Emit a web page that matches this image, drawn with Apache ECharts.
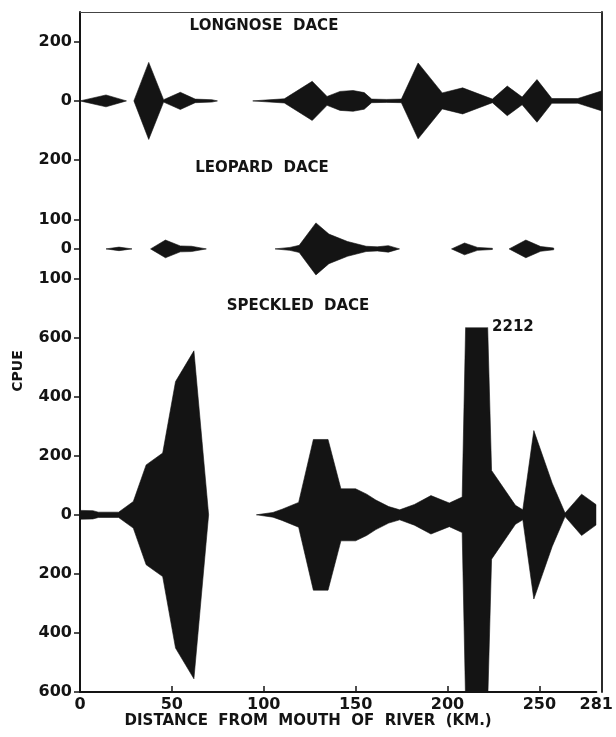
<!DOCTYPE html>
<html>
<head>
<meta charset="utf-8">
<script src="https://cdn.jsdelivr.net/npm/echarts@6/dist/echarts.min.js"></script>
<style>
  html, body { margin: 0; padding: 0; background: #fff; }
  #chart { width: 616px; height: 737px; }
</style>
</head>
<body>
<div id="chart"></div>
<script>
// Distance from the river mouth (km) and CPUE for each species.
// A null entry splits the kite where the species was not taken.
const longnoseKm   = [0, 14, 25, null, 29, 37, 45, 54, 62, 71, 74, null,
                      93, 100, 110, 125, 133, 140, 147, 153, 157, 165, 173, 182, 195, 206, 222, 230, 238, 246, 254, 268, 281];
const longnoseCpue = [0, 20, 0, null, 0, 130, 4, 29, 6, 4, 0, null,
                      0, 3, 7, 66, 15, 32, 35, 28, 6, 5, 6, 128, 27, 44, 6, 50, 13, 72, 8, 8, 34];

const leopardKm   = [14, 21, 28, null, 38, 46, 54, 60, 68, null,
                     105, 113, 118, 127, 134, 144, 154, 160, 166, 172, null,
                     200, 207, 214, 222, null, 231, 240, 248, 255];
const leopardCpue = [0, 6, 0, null, 0, 30, 10, 9, 0, null,
                     0, 5, 12, 88, 50, 25, 9, 7, 11, 0, null,
                     0, 20, 5, 2, null, 0, 30, 8, 3];

const speckledKm   = [0, 7, 10, 21, 29, 36, 45, 52, 62, 70, null,
                      96, 105, 110, 119, 127, 135, 142, 150, 156, 161, 168, 174, 182, 191, 201, 208, 215, 224, 237, 241, 247, 257, 264, 273, 281];
const speckledCpue = [15, 14, 9, 9, 45, 169, 209, 451, 555, 0, null,
                      0, 8, 19, 42, 255, 255, 88, 88, 70, 50, 28, 17, 35, 65, 40, 60, 2212, 150, 32, 17, 285, 107, 6, 70, 34];

// Tick values (CPUE is mirrored about each baseline).
const distanceTicks = [0, 50, 100, 150, 200, 250, 281];
const longnoseTicks = [-200, 0, 200];
const leopardTicks  = [-100, 0, 100];
const speckledTicks = [-600, -400, -200, 0, 200, 400, 600];

// Vertical extent of each strip (same CPUE-per-pixel scale in all three).
const LONGNOSE_RANGE = [-300, 300];
const LEOPARD_RANGE  = [-265, 200];
const SPECKLED_RANGE = [-600, 635];

const INK = '#141414';
const FONT = 'DejaVu Sans';

const chart = echarts.init(document.getElementById('chart'), null, { renderer: 'canvas' });

// Split the paired arrays into runs of consecutive stations.
function segments(km, cpue) {
  const out = [];
  let cur = [];
  km.forEach((x, i) => {
    if (x == null) { if (cur.length) out.push(cur); cur = []; }
    else cur.push([x, cpue[i]]);
  });
  if (cur.length) out.push(cur);
  return out;
}

// One custom series per species: each run is drawn as a polygon mirrored about zero.
function kite(km, cpue, idx, name) {
  const segs = segments(km, cpue);
  return {
    type: 'custom', name: name, xAxisIndex: idx, yAxisIndex: idx,
    silent: true, animation: false, clip: true,
    data: segs.map((s, i) => [s[0][0], s[s.length - 1][0], i]),
    encode: { x: [0, 1] },
    renderItem: function (params, api) {
      const seg = segs[api.value(2)];
      const upper = seg.map(p => api.coord([p[0], p[1]]));
      const lower = seg.slice().reverse().map(p => api.coord([p[0], -p[1]]));
      const cs = params.coordSys;
      return {
        type: 'polygon',
        shape: { points: upper.concat(lower) },
        style: { fill: INK, stroke: INK, lineWidth: 0.6 },
        clipPath: { type: 'rect', shape: { x: cs.x, y: cs.y, width: cs.width, height: cs.height } }
      };
    }
  };
}

const speckledMax = Math.max(...speckledCpue.filter(v => v != null));
const peakIdx = speckledCpue.indexOf(speckledMax);

function panelY(idx, range, ticks) {
  return {
    type: 'value', gridIndex: idx, min: range[0], max: range[1],
    axisLine: { show: false, onZero: false },
    splitLine: { show: false },
    axisTick: { show: true, inside: false, length: 6, customValues: ticks,
                lineStyle: { color: INK, width: 1.5 } },
    axisLabel: { show: true, customValues: ticks, margin: 8,
                 formatter: v => String(Math.abs(v)),
                 color: INK, fontSize: 16, fontWeight: 'bold', fontFamily: FONT }
  };
}

function hiddenX(idx) {
  return { type: 'value', gridIndex: idx, min: 0, max: 281, show: false,
           axisLine: { onZero: false } };
}

const option = {
  backgroundColor: '#fff',
  animation: false,
  grid: [
    { left: 80, right: 14, top: 12, height: 177.8 },
    { left: 80, right: 14, top: 189.8, height: 137.4 },
    { left: 80, right: 14, top: 327.2, height: 364.9 },
    // outer frame
    { left: 80, right: 14, top: 12, bottom: 44.9 }
  ],
  xAxis: [
    hiddenX(0),
    hiddenX(1),
    {
      type: 'value', gridIndex: 2, min: 0, max: 281,
      axisLine: { show: true, onZero: false, lineStyle: { color: INK, width: 2 } },
      splitLine: { show: false },
      axisTick: { show: true, inside: true, length: 6, customValues: [50, 100, 150, 200, 250],
                  lineStyle: { color: INK, width: 1.5 } },
      axisLabel: { show: true, customValues: distanceTicks, margin: 5,
                   color: INK, fontSize: 16, fontWeight: 'bold', fontFamily: FONT },
      name: 'DISTANCE  FROM  MOUTH  OF  RIVER  (KM.)',
      nameLocation: 'middle', nameGap: 21,
      nameTextStyle: { color: INK, fontSize: 15, fontWeight: 'bold', fontFamily: FONT,
                       padding: [0, 60, 0, 0] }
    },
    {
      type: 'value', gridIndex: 3, min: 0, max: 281, position: 'top',
      axisLine: { show: true, onZero: false, lineStyle: { color: '#444', width: 1.2 } },
      axisTick: { show: false }, axisLabel: { show: false }, splitLine: { show: false }
    }
  ],
  yAxis: [
    panelY(0, LONGNOSE_RANGE, longnoseTicks),
    panelY(1, LEOPARD_RANGE, leopardTicks),
    panelY(2, SPECKLED_RANGE, speckledTicks),
    {
      type: 'value', gridIndex: 3, position: 'left', min: 0, max: 1,
      axisLine: { show: true, onZero: false, lineStyle: { color: INK, width: 2 } },
      axisTick: { show: false }, axisLabel: { show: false }, splitLine: { show: false }
    },
    {
      type: 'value', gridIndex: 3, position: 'right', min: 0, max: 1,
      axisLine: { show: true, onZero: false, lineStyle: { color: INK, width: 1.8 } },
      axisTick: { show: false }, axisLabel: { show: false }, splitLine: { show: false }
    }
  ],
  series: [
    kite(longnoseKm, longnoseCpue, 0, 'Longnose dace'),
    kite(leopardKm, leopardCpue, 1, 'Leopard dace'),
    kite(speckledKm, speckledCpue, 2, 'Speckled dace'),
    {
      // value of the off-scale station, written beside the cut-off spike
      type: 'scatter', xAxisIndex: 2, yAxisIndex: 2, silent: true, animation: false,
      symbol: 'circle', symbolSize: 0, itemStyle: { color: INK, opacity: 1 },
      data: [[speckledKm[peakIdx], SPECKLED_RANGE[1] - 10, speckledMax]],
      label: { show: true, position: 'right', distance: 17, offset: [0, -3],
               formatter: p => String(p.value[2]),
               color: INK, fontSize: 15, fontWeight: 'bold', fontFamily: FONT }
    }
  ],
  graphic: [
    { type: 'text', x: 264, y: 26, style: { text: 'LONGNOSE  DACE', fill: INK,
      font: 'bold 15px "DejaVu Sans"', align: 'center', verticalAlign: 'middle' } },
    { type: 'text', x: 262, y: 168, style: { text: 'LEOPARD  DACE', fill: INK,
      font: 'bold 15px "DejaVu Sans"', align: 'center', verticalAlign: 'middle' } },
    { type: 'text', x: 298, y: 306, style: { text: 'SPECKLED  DACE', fill: INK,
      font: 'bold 15px "DejaVu Sans"', align: 'center', verticalAlign: 'middle' } },
    { type: 'text', x: 18, y: 371, rotation: Math.PI / 2, style: { text: 'CPUE', fill: INK,
      font: 'bold 14px "DejaVu Sans"', align: 'center', verticalAlign: 'middle' } }
  ]
};

chart.setOption(option);
</script>
</body>
</html>
